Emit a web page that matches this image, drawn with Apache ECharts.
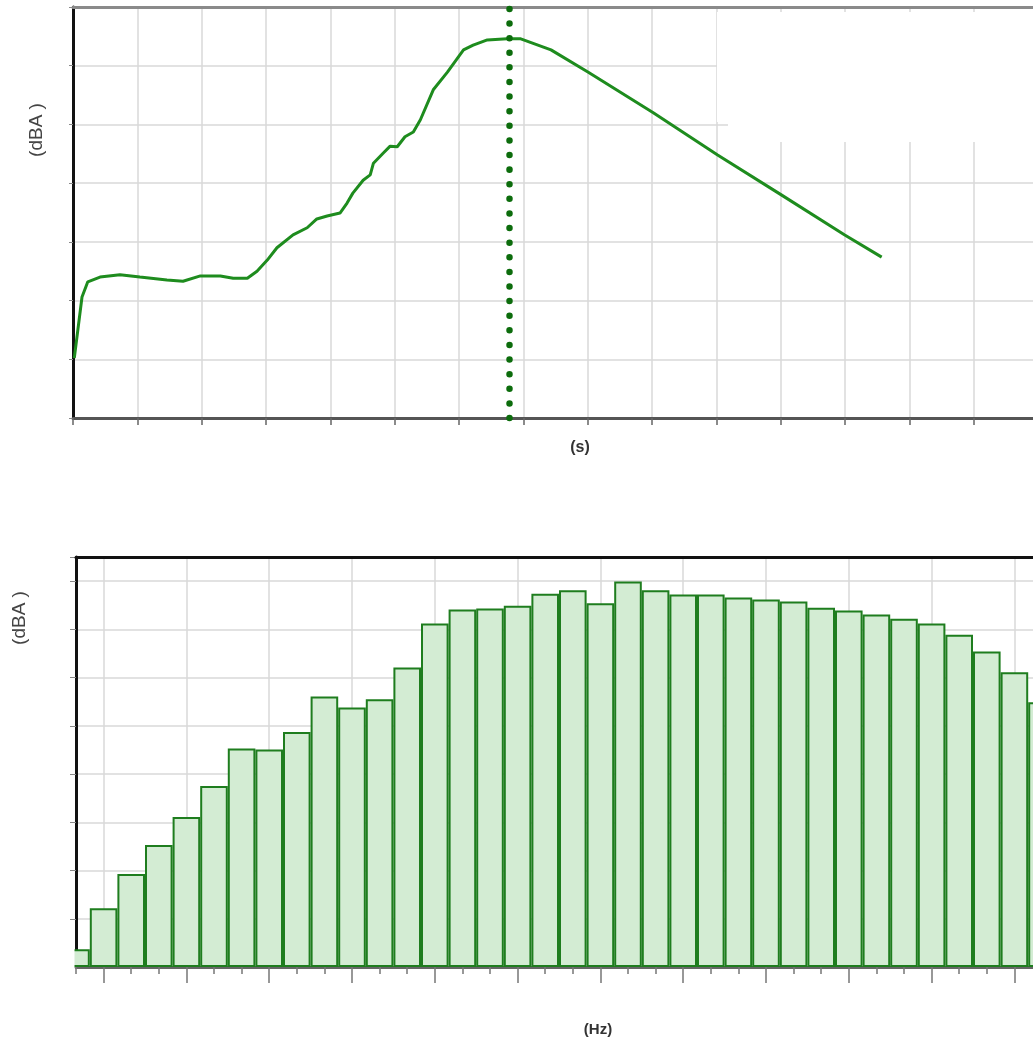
<!DOCTYPE html>
<html>
<head>
<meta charset="utf-8">
<title>dBA</title>
<script src="https://cdn.jsdelivr.net/npm/echarts@6/dist/echarts.min.js"></script>
<style>
html, body { margin: 0; padding: 0; background: #fff; }
#main { width: 1033px; height: 1043px; }
</style>
</head>
<body>
<div id="main"></div>
<script>
// time curve (s / dBA)
var timeX = [0.02, 0.14, 0.23, 0.42, 0.73, 1.04, 1.46, 1.71, 1.98, 2.29, 2.49, 2.71, 2.86, 3.02, 3.17, 3.42, 3.64, 3.79, 3.95, 4.15,
	4.26, 4.35, 4.51, 4.62, 4.67, 4.82, 4.93, 5.04, 5.16, 5.29, 5.40, 5.60, 5.82, 6.07, 6.22, 6.44, 6.75, 6.95, 7.43, 8.01,
	9.02, 10.02, 11.01, 11.99, 12.57];
var levelY = [1.02, 2.06, 2.32, 2.40, 2.44, 2.40, 2.35, 2.33, 2.42, 2.42, 2.38, 2.38, 2.50, 2.69, 2.90, 3.12, 3.24, 3.39, 3.44, 3.49,
	3.66, 3.83, 4.05, 4.14, 4.34, 4.51, 4.63, 4.62, 4.79, 4.87, 5.08, 5.59, 5.89, 6.27, 6.35, 6.44, 6.46, 6.46, 6.27, 5.89,
	5.20, 4.48, 3.80, 3.12, 2.74];
var peakTime = 6.78;

// 1/3 octave spectrum
var bands = ['12.5', '16', '20', '25', '31.5', '40', '50', '63', '80', '100', '125', '160', '200', '250', '315', '400', '500', '630',
	'800', '1k', '1.25k', '1.6k', '2k', '2.5k', '3.15k', '4k', '5k', '6.3k', '8k', '10k', '12.5k', '16k', '20k', '25k', '31.5k', '40k'];
var bandLevels = [0.37, 1.22, 1.93, 2.53, 3.11, 3.75, 4.53, 4.51, 4.87, 5.61, 5.38, 5.55, 6.21, 7.12, 7.41, 7.43, 7.49, 7.74,
	7.81, 7.54, 7.99, 7.81, 7.72, 7.72, 7.66, 7.62, 7.58, 7.45, 7.39, 7.31, 7.22, 7.12, 6.89, 6.54, 6.11, 5.49];

var gridColor = '#d8d8d8';
var curve = [];
for (var i = 0; i < timeX.length; i++) {
	curve.push([timeX[i], levelY[i]]);
}
function octave(idx) {
	return idx % 3 === 1;
}

var myChart = echarts.init(document.getElementById('main'));
var option = {
	animation: false,
	backgroundColor: '#fff',
	grid: [
		{ left: 73, top: 7, right: -5, bottom: 625, outerBoundsMode: 'none' },
		{ left: 76, top: 557, right: -9, bottom: 76, outerBoundsMode: 'none' }
	],
	xAxis: [{
		type: 'value', gridIndex: 0, min: 0, max: 15, interval: 1,
		axisLine: { lineStyle: { color: '#555', width: 3 } },
		axisTick: { length: 7, lineStyle: { color: '#666', width: 1.5 } },
		axisLabel: { show: false },
		splitLine: { lineStyle: { color: gridColor, width: 1.5 } }
	}, {
		// top frame line
		type: 'value', gridIndex: 0, min: 0, max: 15, position: 'top', z: 1,
		axisLine: { lineStyle: { color: '#8a8a8a', width: 3 } },
		axisTick: { show: false }, axisLabel: { show: false }, splitLine: { show: false }
	}, {
		type: 'category', gridIndex: 1, data: bands, boundaryGap: false,
		axisLine: { lineStyle: { color: '#666', width: 3 } },
		axisTick: { interval: 0, length: 7, lineStyle: { color: '#777', width: 1.5 } },
		axisLabel: { show: false },
		splitLine: { show: true, interval: octave, lineStyle: { color: gridColor, width: 1.5 } }
	}, {
		// long ticks on octave bands
		type: 'category', gridIndex: 1, data: bands, boundaryGap: false, position: 'bottom',
		axisLine: { show: false },
		axisTick: { interval: octave, length: 16, lineStyle: { color: '#777', width: 1.5 } },
		axisLabel: { show: false },
		splitLine: { show: false }
	}, {
		type: 'category', gridIndex: 1, data: bands, boundaryGap: false, position: 'top', z: 1,
		axisLine: { lineStyle: { color: '#111', width: 3 } },
		axisTick: { show: false }, axisLabel: { show: false }, splitLine: { show: false }
	}],
	yAxis: [{
		type: 'value', gridIndex: 0, min: 0, max: 7, interval: 1,
		axisLine: { show: true, lineStyle: { color: '#111', width: 3 } },
		axisTick: { show: true, length: 4, lineStyle: { color: '#888' } },
		axisLabel: { show: false },
		splitLine: { lineStyle: { color: gridColor, width: 1.5 } }
	}, {
		type: 'value', gridIndex: 1, min: 0, max: 8.5, interval: 1,
		axisLine: { show: true, lineStyle: { color: '#111', width: 3 } },
		axisTick: { show: true, length: 6, lineStyle: { color: '#888' } },
		axisLabel: { show: false },
		splitLine: { lineStyle: { color: gridColor, width: 1.5 } }
	}],
	series: [{
		type: 'line',
		xAxisIndex: 0, yAxisIndex: 0,
		data: curve,
		showSymbol: false,
		lineStyle: { color: '#1e8c1e', width: 3 },
		markLine: {
			silent: true,
			symbol: ['none', 'none'],
			label: { show: false },
			lineStyle: { color: '#0c6c0c', width: 6.5, type: [0.01, 14.6], cap: 'round' },
			data: [{ xAxis: peakTime }]
		}
	}, {
		type: 'bar',
		xAxisIndex: 2, yAxisIndex: 1,
		data: bandLevels,
		barCategoryGap: '0%',
		itemStyle: { color: '#d3ecd3', borderColor: '#1e7d1e', borderWidth: 2 }
	}],
	graphic: [
		// blank patch on upper right of the time plot
		{ type: 'rect', z: 1, shape: { x: 717, y: 12, width: 320, height: 110 }, style: { fill: '#fff' } },
		{ type: 'rect', z: 1, shape: { x: 728, y: 120, width: 310, height: 22 }, style: { fill: '#fff' } },
		// first band is cut at the y axis
		{ type: 'rect', z: 10, shape: { x: 45, y: 938, width: 29.5, height: 31 }, style: { fill: '#fff' } },
		{ type: 'text', z: 5, x: 37, y: 130, rotation: Math.PI / 2, style: { text: '(dBA )', fill: '#444', font: '19px "Liberation Sans"', align: 'center', verticalAlign: 'middle' } },
		{ type: 'text', z: 5, x: 580, y: 448, style: { text: '(s)', fill: '#333', font: 'bold 16px "Liberation Sans"', align: 'center', verticalAlign: 'middle' } },
		{ type: 'text', z: 5, x: 20, y: 618, rotation: Math.PI / 2, style: { text: '(dBA )', fill: '#444', font: '19px "Liberation Sans"', align: 'center', verticalAlign: 'middle' } },
		{ type: 'text', z: 5, x: 598, y: 1030, style: { text: '(Hz)', fill: '#333', font: 'bold 15px "Liberation Sans"', align: 'center', verticalAlign: 'middle' } }
	]
};
myChart.setOption(option);
</script>
</body>
</html>
